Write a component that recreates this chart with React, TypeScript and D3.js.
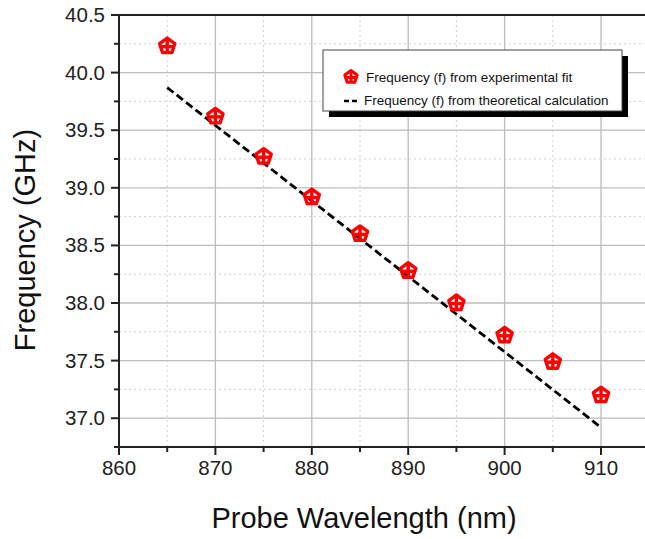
import React from "react";
import * as d3 from "d3";

const wavelengths = [865, 870, 875, 880, 885, 890, 895, 900, 905, 910];
const expFreq = [40.23, 39.62, 39.27, 38.92, 38.6, 38.28, 38.0, 37.72, 37.49, 37.2];
const theoryWl = [865, 910];
const theoryFreq = [39.87, 36.92];
const xTicks = [860, 870, 880, 890, 900, 910];
const yTicks = [37.0, 37.5, 38.0, 38.5, 39.0, 39.5, 40.0, 40.5];
const legendLabels = ["Frequency (f) from experimental fit", "Frequency (f) from theoretical calculation"];

const W = 645, H = 539;
const L = 119, T = 15, B = 447;

function Marker({ cx, cy, r, sw }: { cx: number; cy: number; r: number; sw: number }) {
  const pts = d3.range(5).map((i) => {
    const a = -Math.PI / 2 + (i * 2 * Math.PI) / 5;
    return [cx + r * Math.cos(a), cy + r * Math.sin(a)];
  });
  return (
    <g stroke="#ff0000" strokeWidth={sw} fill="none">
      <polygon points={pts.map((p) => p.join(",")).join(" ")} strokeLinejoin="round" />
      <line x1={cx} y1={cy - r} x2={cx} y2={cy + r * 0.8} />
      <line x1={cx - r * 0.85} y1={cy + 0.5} x2={cx + r * 0.85} y2={cy + 0.5} />
    </g>
  );
}

export default function App() {
  const x = d3.scaleLinear().domain([860, 910]).range([L, 601]);
  const y = d3.scaleLinear().domain([36.75, 40.5]).range([B, T]);
  const xMinor = d3.range(865, 915, 10);
  const yMinor = d3.range(36.75, 40.5, 0.5).map((v) => +v.toFixed(2));
  const line = d3.line<number>().x((d, i) => x(theoryWl[i])).y((d) => y(d));
  const font = "Liberation Sans, Arial, sans-serif";
  return (
    <svg width={W} height={H} style={{ position: "absolute", left: 0, top: 0, background: "#fff" }} fontFamily={font}>
      {/* minor grid */}
      {xMinor.map((v) => (
        <line key={"xm" + v} x1={x(v)} x2={x(v)} y1={T} y2={B} stroke="#d0d0d0" strokeDasharray="2,3" />
      ))}
      {yMinor.map((v) => (
        <line key={"ym" + v} x1={L} x2={W} y1={y(v)} y2={y(v)} stroke="#d0d0d0" strokeDasharray="2,3" />
      ))}
      {/* major grid */}
      {xTicks.slice(1).map((v) => (
        <line key={"xg" + v} x1={x(v)} x2={x(v)} y1={T} y2={B} stroke="#bdbdbd" strokeWidth={1.3} />
      ))}
      {yTicks.slice(0, -1).map((v) => (
        <line key={"yg" + v} x1={L} x2={W} y1={y(v)} y2={y(v)} stroke="#bdbdbd" strokeWidth={1.3} />
      ))}
      {/* axes */}
      <line x1={L} x2={W} y1={T} y2={T} stroke="#222" strokeWidth={2} />
      <line x1={L} x2={W} y1={B} y2={B} stroke="#222" strokeWidth={2} />
      <line x1={L} x2={L} y1={T} y2={B + 1} stroke="#222" strokeWidth={2} />
      {xTicks.map((v) => (
        <g key={"xt" + v}>
          <line x1={x(v)} x2={x(v)} y1={B} y2={B + 8} stroke="#222" strokeWidth={2} />
          <text x={x(v)} y={B + 28} textAnchor="middle" fontSize={20.5} fill="#222">{v}</text>
        </g>
      ))}
      {xMinor.map((v) => (
        <line key={"xmt" + v} x1={x(v)} x2={x(v)} y1={B} y2={B + 5} stroke="#222" strokeWidth={2} />
      ))}
      {yTicks.map((v) => (
        <g key={"yt" + v}>
          <line x1={L - 8} x2={L} y1={y(v)} y2={y(v)} stroke="#222" strokeWidth={2} />
          <text x={L - 14} y={y(v) + 7} textAnchor="end" fontSize={20.5} fill="#222">{v.toFixed(1)}</text>
        </g>
      ))}
      {yMinor.map((v) => (
        <line key={"ymt" + v} x1={L - 5} x2={L} y1={y(v)} y2={y(v)} stroke="#222" strokeWidth={2} />
      ))}
      {/* theoretical line */}
      <path d={line(theoryFreq) || ""} stroke="#000" strokeWidth={2.8} strokeDasharray="8,4" fill="none" />
      {/* markers */}
      {wavelengths.map((w, i) => (
        <Marker key={w} cx={x(w)} cy={y(expFreq[i])} r={8} sw={3.4} />
      ))}
      {/* legend */}
      <rect x={329} y={56} width={299} height={61} fill="#000" />
      <rect x={323} y={50} width={299} height={61} fill="#fff" stroke="#444" strokeWidth={1} />
      <Marker cx={351} cy={77} r={6.5} sw={3} />
      <text x={366} y={82} fontSize={13.5} fill="#111">{legendLabels[0]}</text>
      <line x1={344} x2={357} y1={101} y2={101} stroke="#000" strokeWidth={2.5} strokeDasharray="5,3" />
      <text x={364} y={105} fontSize={13.5} fill="#111">{legendLabels[1]}</text>
      {/* axis titles */}
      <text x={364} y={528} textAnchor="middle" fontSize={29} fill="#111">Probe Wavelength (nm)</text>
      <text transform={`translate(35,240) rotate(-90)`} textAnchor="middle" fontSize={29} fill="#111">Frequency (GHz)</text>
    </svg>
  );
}
